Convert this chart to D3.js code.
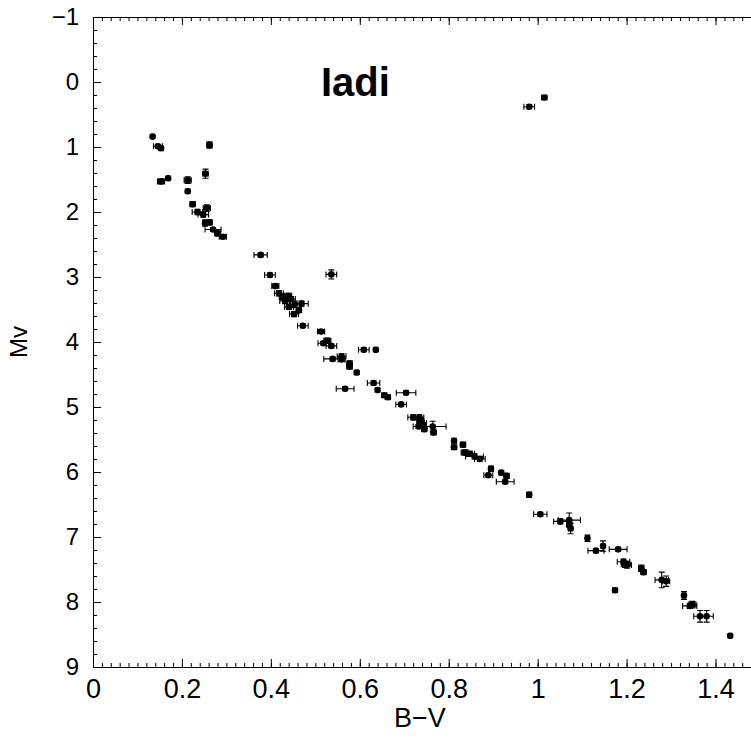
<!DOCTYPE html>
<html>
<head>
<meta charset="utf-8">
<script src="https://cdn.jsdelivr.net/npm/d3@7"></script>
<style>
  body { margin: 0; background: #fff; }
  svg { display: block; }
  .axis path, .axis line { stroke: #000; }
  .xlab text { font-family: "Liberation Sans Narrow", "Arial Narrow", "Liberation Sans", Arial, sans-serif; font-size: 27px; fill: #000; }
  .ylab text { font-family: "Liberation Sans", Arial, sans-serif; font-size: 24px; fill: #000; }
</style>
</head>
<body>
<div id="chart"></div>
<script>
// B-V colour, absolute magnitude and their errors
const bv = [0.134, 0.146, 0.153, 0.262, 0.153, 0.169, 0.213, 0.253, 0.213, 0.224,
            0.256, 0.235, 0.248, 0.252, 0.262, 0.270, 0.280, 0.292, 0.377, 0.981,
            1.015, 0.536, 0.398, 0.410, 0.418, 0.427, 0.432, 0.439, 0.445, 0.454,
            0.441, 0.452, 0.463, 0.469, 0.472, 0.513, 0.518, 0.527, 0.536, 0.609,
            0.636, 0.539, 0.559, 0.559, 0.577, 0.577, 0.593, 0.567, 0.631, 0.640,
            0.655, 0.663, 0.704, 0.693, 0.720, 0.734, 0.736, 0.740, 0.742, 0.732,
            0.745, 0.764, 0.766, 0.812, 0.812, 0.832, 0.836, 0.848, 0.858, 0.870,
            0.895, 0.889, 0.918, 0.930, 0.927, 0.981, 1.006, 1.051, 1.071, 1.071,
            1.074, 1.112, 1.131, 1.147, 1.181, 1.193, 1.198, 1.201, 1.233, 1.238,
            1.174, 1.279, 1.289, 1.329, 1.342, 1.348, 1.365, 1.380, 1.433];
const mv = [0.84, 0.99, 1.02, 0.97, 1.53, 1.48, 1.51, 1.41, 1.68, 1.88,
            1.94, 2.00, 2.04, 2.17, 2.16, 2.27, 2.33, 2.38, 2.66, 0.38,
            0.24, 2.96, 2.97, 3.14, 3.25, 3.31, 3.37, 3.29, 3.34, 3.42,
            3.46, 3.57, 3.51, 3.41, 3.75, 3.84, 4.02, 3.98, 4.06, 4.12,
            4.12, 4.26, 4.22, 4.27, 4.33, 4.38, 4.47, 4.72, 4.63, 4.74,
            4.82, 4.85, 4.78, 4.96, 5.16, 5.16, 5.22, 5.25, 5.28, 5.30,
            5.34, 5.30, 5.39, 5.52, 5.62, 5.58, 5.70, 5.72, 5.76, 5.80,
            5.95, 6.05, 6.01, 6.06, 6.15, 6.35, 6.65, 6.76, 6.74, 6.80,
            6.87, 7.02, 7.21, 7.14, 7.19, 7.38, 7.42, 7.43, 7.48, 7.54,
            7.82, 7.66, 7.68, 7.90, 8.06, 8.04, 8.22, 8.22, 8.52];
const bvErr = [0.003, 0.010, 0.005, 0.006, 0.008, 0.003, 0.008, 0.006, 0.003, 0.006,
               0.008, 0.012, 0.012, 0.005, 0.006, 0.018, 0.006, 0.008, 0.015, 0.012,
               0.006, 0.012, 0.012, 0.008, 0.010, 0.008, 0.012, 0.008, 0.010, 0.012,
               0.010, 0.010, 0.006, 0.015, 0.012, 0.008, 0.012, 0.008, 0.012, 0.012,
               0.003, 0.020, 0.010, 0.008, 0.006, 0.006, 0.004, 0.020, 0.014, 0.003,
               0.006, 0.006, 0.022, 0.012, 0.012, 0.010, 0.008, 0.010, 0.008, 0.012,
               0.006, 0.030, 0.006, 0.004, 0.006, 0.006, 0.008, 0.010, 0.020, 0.012,
               0.004, 0.010, 0.004, 0.006, 0.020, 0.005, 0.015, 0.015, 0.025, 0.006,
               0.005, 0.004, 0.018, 0.004, 0.020, 0.014, 0.010, 0.010, 0.006, 0.006,
               0.005, 0.015, 0.008, 0.004, 0.016, 0.008, 0.014, 0.015, 0.003];
const mvErr = [0.02, 0.03, 0.03, 0.05, 0.04, 0.03, 0.05, 0.07, 0.03, 0.04,
               0.05, 0.04, 0.04, 0.05, 0.04, 0.03, 0.04, 0.03, 0.03, 0.03,
               0.03, 0.07, 0.03, 0.03, 0.04, 0.04, 0.04, 0.04, 0.04, 0.05,
               0.04, 0.04, 0.04, 0.04, 0.03, 0.03, 0.03, 0.04, 0.03, 0.03,
               0.03, 0.03, 0.04, 0.03, 0.04, 0.03, 0.03, 0.03, 0.03, 0.03,
               0.03, 0.03, 0.03, 0.03, 0.04, 0.04, 0.04, 0.04, 0.04, 0.03,
               0.04, 0.08, 0.04, 0.04, 0.03, 0.04, 0.04, 0.04, 0.04, 0.03,
               0.04, 0.03, 0.03, 0.04, 0.03, 0.04, 0.03, 0.04, 0.11, 0.04,
               0.08, 0.05, 0.03, 0.08, 0.03, 0.04, 0.05, 0.05, 0.05, 0.04,
               0.03, 0.12, 0.08, 0.06, 0.04, 0.05, 0.09, 0.09, 0.03];

const xMajor = d3.range(0, 1.501, 0.2);
const xMinor = d3.range(0, 1.501, 0.02);
const yMajor = d3.range(-1, 9.01, 1);
const yMinor = d3.range(-1, 9.01, 0.2);

const W = 751, H = 740;
const margin = { left: 93, top: 17 };
const plotW = 667, plotH = 650;

const svg = d3.select('#chart').append('svg')
    .attr('width', W)
    .attr('height', H);

const g = svg.append('g')
    .attr('transform', `translate(${margin.left},${margin.top})`);

const x = d3.scaleLinear().domain([0, 1.5]).range([0, plotW]);
const y = d3.scaleLinear().domain([-1, 9]).range([0, plotH]);

const fmt = d3.format('~g');

// bottom axis: minor + major ticks pointing inward
g.append('g').attr('class', 'axis')
    .attr('transform', `translate(0,${plotH})`)
    .call(d3.axisBottom(x).tickValues(xMinor).tickSize(-4).tickFormat(''))
    .call(a => a.select('.domain').remove());
g.append('g').attr('class', 'axis xlab')
    .attr('transform', `translate(0,${plotH})`)
    .call(d3.axisBottom(x).tickValues(xMajor).tickSize(-8).tickSizeOuter(0).tickPadding(12).tickFormat(fmt))
    .call(a => a.selectAll('text').attr('font-size', null).attr('font-family', null));

// top axis
g.append('g').attr('class', 'axis')
    .call(d3.axisTop(x).tickValues(xMinor).tickSize(-4).tickFormat(''))
    .call(a => a.select('.domain').remove());
g.append('g').attr('class', 'axis')
    .call(d3.axisTop(x).tickValues(xMajor).tickSize(-8).tickSizeOuter(0).tickFormat(''));

// left axis
g.append('g').attr('class', 'axis')
    .call(d3.axisLeft(y).tickValues(yMinor).tickSize(-4).tickFormat(''))
    .call(a => a.select('.domain').remove());
g.append('g').attr('class', 'axis ylab')
    .call(d3.axisLeft(y).tickValues(yMajor).tickSize(-8).tickSizeOuter(0).tickPadding(14).tickFormat(fmt))
    .call(a => a.selectAll('text').attr('font-size', null).attr('font-family', null));

// axis titles
svg.append('text')
    .attr('x', 420).attr('y', 727)
    .attr('text-anchor', 'middle')
    .style('font-family', '"Liberation Sans Narrow", "Liberation Sans", Arial, sans-serif')
    .style('font-size', '27px')
    .text('B−V');

svg.append('text')
    .attr('transform', 'rotate(-90)')
    .attr('x', -342).attr('y', 27)
    .attr('text-anchor', 'middle')
    .style('font-family', '"Liberation Sans", Arial, sans-serif')
    .style('font-size', '24px')
    .text('Mv');

// cluster name
g.append('text')
    .attr('x', x(0.59)).attr('y', y(0.22))
    .attr('text-anchor', 'middle')
    .style('font-family', '"Liberation Sans", Arial, sans-serif')
    .style('font-size', '40px')
    .style('font-weight', 'bold')
    .text('Iadi');

const stars = bv.map((v, i) => ({ bv: v, mv: mv[i], ex: bvErr[i], ey: mvErr[i] }));
const cap = 3;

const pts = g.append('g').selectAll('g.star')
    .data(stars)
    .enter()
    .append('g')
    .attr('class', 'star');

// error bars with caps
pts.append('path')
    .attr('fill', 'none')
    .attr('stroke', '#000')
    .attr('stroke-width', 1.1)
    .attr('d', d => {
        const x0 = x(d.bv - d.ex), x1 = x(d.bv + d.ex), yy = y(d.mv);
        const y0 = y(d.mv - d.ey), y1 = y(d.mv + d.ey), xx = x(d.bv);
        return `M${x0},${yy}H${x1}M${x0},${yy - cap}V${yy + cap}M${x1},${yy - cap}V${yy + cap}` +
               `M${xx},${y0}V${y1}M${xx - cap},${y0}H${xx + cap}M${xx - cap},${y1}H${xx + cap}`;
    });

pts.append('circle')
    .attr('cx', d => x(d.bv))
    .attr('cy', d => y(d.mv))
    .attr('r', 3.3)
    .attr('fill', '#000');
</script>
</body>
</html>
